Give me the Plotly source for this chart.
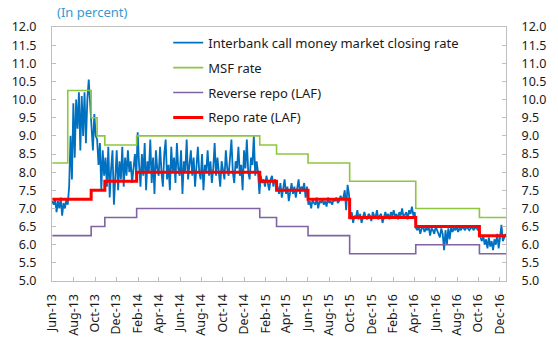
import pandas as pd
import plotly.graph_objects as go

# Policy rate change dates and levels (step series)
policy_dates = ["2013-06-01", "2013-07-15", "2013-09-20", "2013-10-07", "2013-10-29",
                "2014-01-28", "2015-01-15", "2015-03-04", "2015-06-02", "2015-09-29",
                "2016-04-05", "2016-10-04", "2016-12-20"]
msf_rate = [8.25, 10.25, 9.5, 9.0, 8.75, 9.0, 8.75, 8.5, 8.25, 7.75, 7.0, 6.75, 6.75]
reverse_repo = [6.25, 6.25, 6.5, 6.5, 6.75, 7.0, 6.75, 6.5, 6.25, 5.75, 6.0, 5.75, 5.75]
repo_rate = [7.25, 7.25, 7.5, 7.5, 7.75, 8.0, 7.75, 7.5, 7.25, 6.75, 6.5, 6.25, 6.25]

# Interbank call money closing rate, sampled every 4 days from 1 Jun 2013
call_start = "2013-06-01"
call_rate = [
    7.2, 7.1, 7.25, 6.9, 7.2, 7.0, 7.3, 6.8, 7.15, 7.0, 7.25,
    7.1, 7.6, 9.0, 7.8, 9.9, 8.4, 10.0, 9.2, 10.2, 8.6, 10.1, 9.0, 10.2, 8.8, 10.0, 10.55, 9.9,
    9.3, 8.6, 9.6, 9.0,
    8.9, 8.2, 8.8, 7.5, 8.6, 7.9,
    8.4, 7.6, 8.7, 7.3, 8.1, 8.6, 7.1, 7.9, 8.6, 7.5, 8.3, 7.8, 8.7, 7.6, 8.4, 7.9, 8.6, 8.0,
    8.3, 7.7, 8.2, 8.5, 7.9,
    9.1, 8.2, 7.6, 8.5, 7.9, 8.8, 7.5, 8.3, 8.0, 8.9, 7.7, 8.4, 7.4, 8.6, 8.1,
    7.9, 8.7, 8.0, 7.6, 8.5, 8.9, 7.8, 8.2, 7.5, 8.7, 8.0, 8.4, 7.7, 8.8, 8.1, 7.9, 8.6, 7.4,
    8.3, 8.0, 8.9, 7.8,
    8.2, 8.6, 7.9, 8.4, 7.6, 8.1, 8.7, 8.0, 7.8, 8.5, 7.5, 8.2, 8.0, 8.6, 7.9, 8.3, 7.7, 8.1,
    8.8, 7.9, 8.4, 8.0, 7.6,
    8.3, 8.0, 7.8, 8.6, 8.1, 7.9, 8.5, 8.9, 8.0, 7.7, 8.3, 8.1, 8.7, 7.9, 8.2, 7.5, 8.6, 8.1,
    8.9, 8.0, 7.8, 8.4, 8.2, 9.0, 7.9, 8.3, 8.0, 7.4,
    7.9, 7.7, 7.8, 7.6, 7.9, 7.7, 7.5, 7.8, 7.9, 7.6, 7.8, 7.7,
    7.6, 7.4, 7.7, 7.3, 7.5, 7.8, 7.4, 7.6, 7.2, 7.5, 7.7, 7.4, 7.6, 7.3, 7.5, 7.8, 7.4, 7.6,
    7.5, 7.7, 7.3, 7.6,
    7.1, 7.2, 7.0, 7.25, 7.15, 7.1, 7.3, 7.0, 7.2, 7.15, 7.25, 7.1, 7.2, 7.05, 7.3, 7.15, 7.2,
    7.1, 7.25, 7.2, 7.3, 7.15, 7.2, 7.35, 7.25, 7.3, 7.5, 6.95, 7.65, 7.4,
    6.7, 6.9, 6.6, 6.8, 6.75, 6.95, 6.7, 6.85, 6.6, 6.8, 6.9, 6.75, 6.7, 6.85, 6.8, 6.65, 6.9,
    6.8, 6.75, 6.95, 6.7, 6.8, 6.85, 6.6, 6.8, 6.9, 6.75, 6.85, 6.7, 6.9, 6.8, 6.95, 6.75,
    6.85, 6.7, 6.9, 6.8, 7.0, 6.75, 6.85, 6.9, 6.7, 6.95, 6.85, 7.05, 6.8, 6.9,
    6.45, 6.4, 6.5, 6.3, 6.45, 6.5, 6.35, 6.45, 6.4, 6.5, 6.25, 6.45, 6.4, 6.3, 6.5, 6.4, 6.35,
    6.2, 6.45, 6.3, 5.85, 6.4, 6.0, 6.45, 6.15, 6.5, 6.35, 6.45, 6.4, 6.5, 6.35, 6.45, 6.4,
    6.5, 6.45, 6.4, 6.5, 6.45, 6.4, 6.45, 6.5, 6.4, 6.45, 6.5, 6.4, 6.45,
    6.2, 6.1, 6.25, 6.0, 6.15, 5.9, 6.2, 5.95, 6.1, 5.85, 6.15, 6.0, 6.3, 5.9, 6.2, 6.55, 6.1,
    6.2, 6.3,
]
call_dates = pd.date_range(call_start, periods=len(call_rate), freq="4D")

y_ticks = [5.0 + 0.5 * k for k in range(15)]

FONT = "Noto Sans"
AXIS_GREY = "#bfbfbf"

fig = go.Figure()
fig.add_trace(go.Scatter(
    x=call_dates, y=call_rate, mode="lines", name="Interbank call money market closing rate",
    line=dict(color="#0070C0", width=1.8), legendgroup="a"))
fig.add_trace(go.Scatter(
    x=policy_dates, y=msf_rate, mode="lines", name="MSF rate", line_shape="hv",
    line=dict(color="#8DC63F", width=1.6), legendgroup="b"))
fig.add_trace(go.Scatter(
    x=policy_dates, y=reverse_repo, mode="lines", name="Reverse repo (LAF)", line_shape="hv",
    line=dict(color="#8064A2", width=1.6), legendgroup="c"))
fig.add_trace(go.Scatter(
    x=policy_dates, y=repo_rate, mode="lines", name="Repo rate (LAF)", line_shape="hv",
    line=dict(color="#FF0000", width=3), legendgroup="d"))
# Invisible trace so the right-hand axis is drawn
fig.add_trace(go.Scatter(
    x=policy_dates, y=repo_rate, mode="lines", yaxis="y2", showlegend=False,
    hoverinfo="skip", line=dict(width=0), opacity=0))

axis_common = dict(
    showgrid=False, zeroline=False, showline=True, linecolor=AXIS_GREY, linewidth=1,
    ticks="inside", ticklen=4, tickcolor=AXIS_GREY,
    tickfont=dict(family=FONT, size=12.5, color="#1a1a1a"),
)

fig.update_layout(
    width=558, height=349,
    margin=dict(l=42, r=47, t=27, b=68),
    paper_bgcolor="white", plot_bgcolor="white",
    font=dict(family=FONT, size=13, color="#1a1a1a"),
    showlegend=True,
    legend=dict(
        x=0.256, y=0.997, xanchor="left", yanchor="top",
        bgcolor="rgba(0,0,0,0)", borderwidth=0,
        font=dict(family=FONT, size=13, color="#1a1a1a"),
        tracegroupgap=5, itemwidth=30,
    ),
    xaxis=dict(
        **axis_common, mirror=True, type="date",
        range=["2013-05-31", "2016-12-19"],
        tick0="2013-06-01", dtick="M2", tickformat="%b-%y", tickangle=-90,
        ticklabelstandoff=7,
    ),
    yaxis=dict(
        **axis_common, mirror=True, range=[5, 12], tickvals=y_ticks,
        tickformat=".1f", ticklabelstandoff=12,
    ),
    yaxis2=dict(
        **axis_common, overlaying="y", side="right", range=[5, 12], tickvals=y_ticks,
        tickformat=".1f", ticklabelstandoff=12,
    ),
    annotations=[dict(
        text="(In percent)", xref="paper", yref="paper", x=0.006, y=1.0,
        xanchor="left", yanchor="bottom", yshift=4, showarrow=False,
        font=dict(family=FONT, size=13, color="#3A97CF"),
    )],
)

fig.write_html("out.html")
